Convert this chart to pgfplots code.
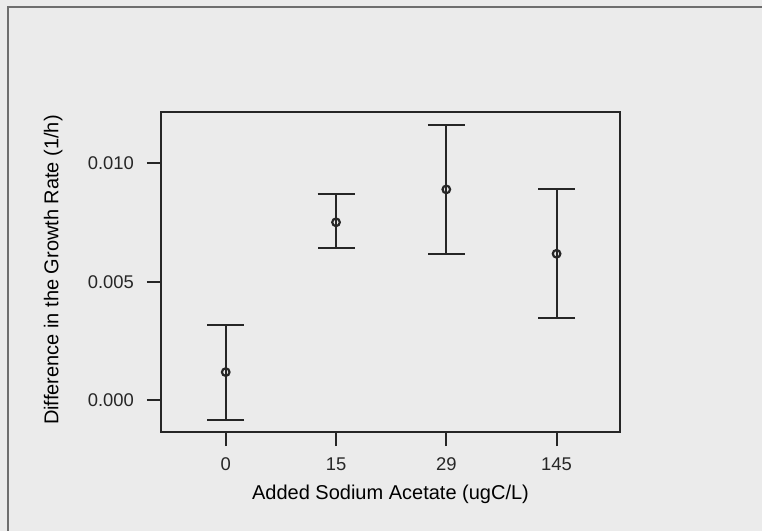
\documentclass[border=0pt]{standalone}
\usepackage{pgfplots}
\pgfplotsset{compat=1.18}
\usepackage{pgfplotstable}
\usetikzlibrary{backgrounds,calc}
\usepackage{fontspec}
\setmainfont{Liberation Sans}
\definecolor{bg}{HTML}{EBEBEB}
\definecolor{ink}{HTML}{262626}
\definecolor{frame}{HTML}{6E6E6E}
\pgfplotstableread{
x y ep em
0 0.00118 0.00199 0.00203
1 0.00751 0.00118 0.00107
2 0.00890 0.00272 0.00273
3 0.00618 0.00273 0.00270
}\datatable
\begin{document}
\begin{tikzpicture}
\begin{axis}[
  scale only axis, width=229.5pt, height=160pt,
  xmin=-0.587, xmax=3.575, ymin=-0.00135, ymax=0.01217,
  axis line style={ink, line width=1pt},
  xtick={0,1,2,3}, xticklabels={0,15,29,145},
  ytick={0,0.005,0.01}, yticklabels={0.000,0.005,0.010},
  tick align=outside, major tick length=7pt,
  tick style={ink, line width=1pt},
  xtick pos=bottom, ytick pos=left,
  /pgf/number format/assume math mode=true,
  ticklabel style={font=\fontsize{9.2}{11}\selectfont, text=ink},
  yticklabel style={xshift=-3pt},
  xticklabel style={yshift=-2.5pt},
  label style={font=\fontsize{10.5}{12}\selectfont, text=ink},
  xlabel={Added Sodium Acetate (ugC/L)},
  ylabel={Difference in the Growth Rate (1/h)},
  every axis x label/.style={at={(axis description cs:0.5,-0.194)}, anchor=center},
  every axis y label/.style={at={(axis description cs:-0.235,0.506)}, anchor=center, rotate=90},
  scaled y ticks=false,
  clip=false,
]
\coordinate (O) at (rel axis cs:0,0);
\addplot[ink, only marks, mark=o, mark size=1.9pt, mark options={line width=1.1pt},
  error bars/.cd, y dir=both, y explicit,
  error bar style={ink, line width=0.95pt},
  error mark options={rotate=90, mark size=9.25pt, line width=0.95pt, ink}]
  table[x=x, y=y, y error plus=ep, y error minus=em] {\datatable};
\end{axis}
\coordinate (SW) at ($(O)+(-80.5pt,-49.5pt)$);
\begin{pgfonlayer}{background}
\fill[bg] (SW) rectangle ++(381pt,265.5pt);
\draw[frame, line width=1pt] ($(SW)+(4pt,0)$) -- ++(0,262pt) -- ++(377pt,0);
\end{pgfonlayer}
\pgfresetboundingbox
\useasboundingbox (SW) rectangle ++(381pt,265.5pt);
\end{tikzpicture}
\end{document}
